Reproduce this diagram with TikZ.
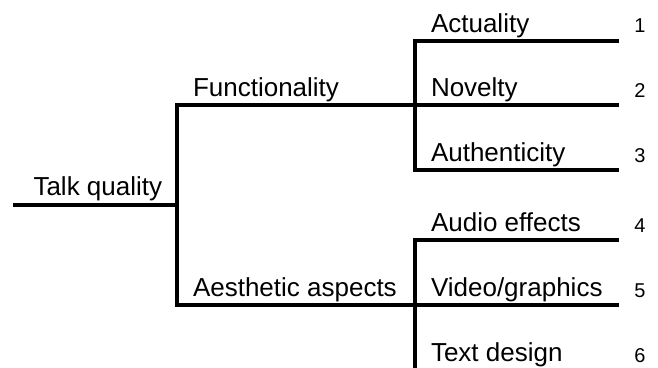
\documentclass[tikz,border=0pt]{standalone}
\usepackage{fontspec}
\setmainfont{Liberation Sans}
\usetikzlibrary{positioning}

\begin{document}
\begin{tikzpicture}[x=1pt, y=-1pt, line width=4pt,
    term/.style={anchor=base west, inner sep=0pt, font=\fontsize{26}{26}\selectfont},
    idx/.style={anchor=base, inner sep=0pt, font=\fontsize{20}{20}\selectfont}]
\useasboundingbox (0,0) rectangle (658,367);
\clip (0,0) rectangle (658,367);
% root and first split
\coordinate (root) at (13,204.5);
\coordinate (split) at (177,204.5);
\coordinate (func) at (177,105);
\coordinate (aest) at (177,305);
\coordinate (funcend) at (415,105);
\coordinate (aestend) at (415,305);
\draw (root) -- (split);
\draw (funcend) -- (func) -- (aest) -- (aestend);
\node [term] (tq) at ([xshift=18.5pt, yshift=9pt]root) {Talk quality};
\node [term] (fn) at ([xshift=14pt, yshift=8.5pt]func) {Functionality};
\node [term] (ae) at ([xshift=14pt, yshift=8.5pt]aest) {Aesthetic aspects};
% leaves
\foreach \n/\y/\t in {1/40.5/Actuality, 2/105/Novelty, 3/170/Authenticity,
                      4/240/Audio effects, 5/305/{Video/graphics}, 6/370/Text design} {
    \coordinate (l\n) at (415,\y);
    \coordinate (r\n) at (619,\y);
    \node [term] (t\n) at ([xshift=14pt, yshift=8.5pt]l\n) {\t};
    \node [idx] (n\n) at ([xshift=21pt, yshift=8pt]r\n) {\n};
}
\draw (r1) -- (l1) -- (l3) -- (r3);
\draw (funcend) -- (r2);
\draw (r4) -- (l4) -- (l6) -- (r6);
\draw (aestend) -- (r5);
\end{tikzpicture}
\end{document}
